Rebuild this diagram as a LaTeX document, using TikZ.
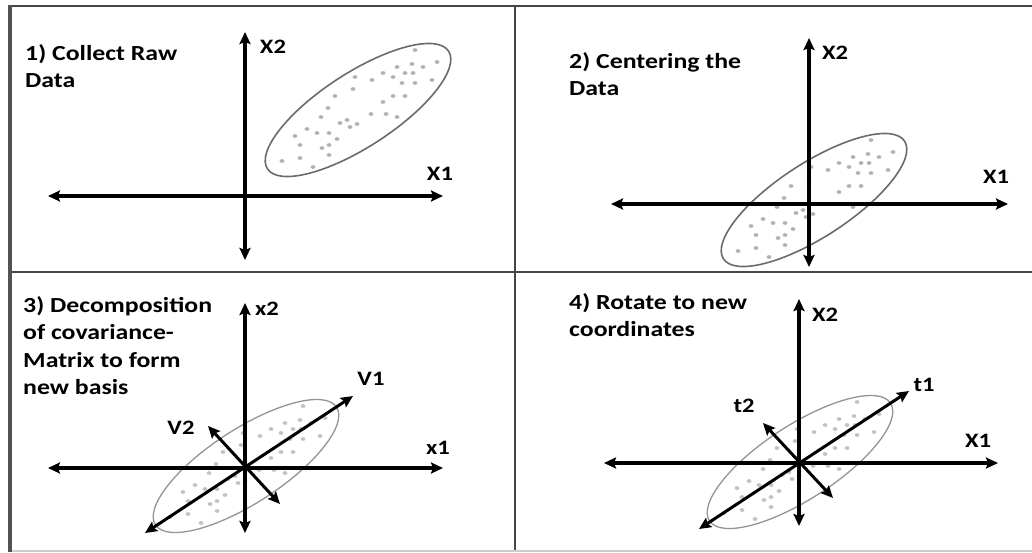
\documentclass[tikz,border=0pt]{standalone}
\usepackage{fontspec}
\setmainfont{Carlito}[FakeStretch=1.2]
\usetikzlibrary{arrows.meta}
\tikzset{
  frameline/.style={line width=2pt, draw=black!72},
  axisline/.style={line width=3.2pt, black, {Stealth[length=12pt,width=11pt,inset=2pt]}-{Stealth[length=12pt,width=11pt,inset=2pt]}},
  vecline/.style={line width=3pt, black, {Stealth[length=12pt,width=11pt,inset=2pt]}-{Stealth[length=12pt,width=11pt,inset=2pt]}},
  titletext/.style={anchor=north west, inner sep=0pt, align=left, font=\fontsize{21.5}{27.5}\selectfont\bfseries},
  axislabel/.style={inner sep=0pt, font=\fontsize{20.5}{24}\selectfont\bfseries},
  cloudline/.style={line width=1.6pt},
}
\newcommand\mydots[1]{%
  \foreach \p in {(57,-60),(79,-48),(54,-46),(65,-43),(39,-43),(47,-37),(55,-37),(25,-37),(35,-33),(14,-30),(-3,-33),(44,-27),(57,-27),(74,-30),(-5,-21),(-23,-14),(35,-14),(47,-14),(25,-8),(-30,-2),(13,4),(28,4),(39,7),(-37,7),(-11,10),(-18,13),(-8,17),(-1,14),(-51,19),(-41,23),(-29,23),(-63,26),(-21,29),(-58,35),(-29,35),(-36,38),(-58,48),(-29,45),(-76,51),(-45,57)}
  {\fill[#1] \p ellipse [x radius=2.4pt, y radius=1.9pt];}}
\begin{document}
\begin{tikzpicture}[x=1pt,y=-1pt]
\useasboundingbox (0,0) rectangle (1032,552);
\fill[white] (0,0) rectangle (1032,552);
% frame
\coordinate (tl) at (8,6); \coordinate (tr) at (1032,6);
\coordinate (ml) at (8,272); \coordinate (mr) at (1032,272);
\coordinate (bl) at (8,551); \coordinate (br) at (1032,551);
\coordinate (vt) at (515,6); \coordinate (vb) at (515,552);
\coordinate (lt) at (10,5); \coordinate (lb) at (10,552);
\draw[frameline] (tl) -- (tr);
\draw[frameline] (ml) -- (mr);
\draw[frameline] (vt) -- (vb);
\draw[line width=1.5pt, black!20] (bl) -- (br);
\draw[line width=4pt, black!68] (lt) -- (lb);

% ---------- panel 1
\begin{scope}[shift={(358,110)}]
  \mydots{black!30}
  \draw[cloudline, black!58, rotate=33] (0,0) ellipse [x radius=108pt, y radius=37pt];
\end{scope}
\coordinate (a1t) at (245,32); \coordinate (a1b) at (245,260);
\coordinate (a1l) at (48,196); \coordinate (a1r) at (443,196);
\draw[axisline] (a1b) -- (a1t);
\draw[axisline] (a1l) -- (a1r);
\node[titletext] (t1) at (25,44) {1) Collect Raw\\Data};
\node[axislabel] (l1y) at (273,47) {X2};
\node[axislabel] (l1x) at (440,174) {X1};

% ---------- panel 2
\begin{scope}[shift={(814,200)}]
  \mydots{black!30}
  \draw[cloudline, black!58, rotate=33] (0,0) ellipse [x radius=108pt, y radius=37pt];
\end{scope}
\coordinate (a2t) at (809,38); \coordinate (a2b) at (809,267);
\coordinate (a2l) at (611,204); \coordinate (a2r) at (1008,204);
\draw[axisline] (a2b) -- (a2t);
\draw[axisline] (a2l) -- (a2r);
\node[titletext] (t2) at (569,52) {2) Centering the\\Data};
\node[axislabel] (l2y) at (835,53) {X2};
\node[axislabel] (l2x) at (996,177) {X1};

% ---------- panel 3
\begin{scope}[shift={(246,466)}]
  \mydots{black!24}
  \draw[line width=1.3pt, black!42, rotate=33] (0,0) ellipse [x radius=108pt, y radius=37pt];
\end{scope}
\coordinate (a3t) at (245,303); \coordinate (a3b) at (245,533);
\coordinate (a3l) at (48,468); \coordinate (a3r) at (443,468);
\draw[axisline] (a3b) -- (a3t);
\draw[axisline] (a3l) -- (a3r);
\coordinate (v1a) at (145,533); \coordinate (v1b) at (353,396);
\coordinate (v2a) at (208,426); \coordinate (v2b) at (280,504);
\draw[vecline] (v1a) -- (v1b);
\draw[vecline] (v2a) -- (v2b);
\node[titletext] (t3) at (23,296) {3) Decomposition\\of covariance-\\Matrix to form\\new basis};
\node[axislabel] (l3y) at (267,309) {x2};
\node[axislabel] (l3x) at (438,448) {x1};
\node[axislabel] (l3v1) at (371,379) {V1};
\node[axislabel] (l3v2) at (181,428) {V2};

% ---------- panel 4
\begin{scope}[shift={(800,462)}]
  \mydots{black!24}
  \draw[line width=1.3pt, black!42, rotate=33] (0,0) ellipse [x radius=108pt, y radius=37pt];
\end{scope}
\coordinate (a4t) at (799,299); \coordinate (a4b) at (799,526);
\coordinate (a4l) at (604,463); \coordinate (a4r) at (998,463);
\draw[axisline] (a4b) -- (a4t);
\draw[axisline] (a4l) -- (a4r);
\coordinate (w1a) at (699,529); \coordinate (w1b) at (909,391);
\coordinate (w2a) at (763,423); \coordinate (w2b) at (833,498);
\draw[vecline] (w1a) -- (w1b);
\draw[vecline] (w2a) -- (w2b);
\node[titletext] (t4) at (569,293) {4) Rotate to new\\coordinates};
\node[axislabel] (l4y) at (825,315) {X2};
\node[axislabel] (l4x) at (978,441) {X1};
\node[axislabel] (l4t1) at (924,385) {t1};
\node[axislabel] (l4t2) at (744,406) {t2};
\end{tikzpicture}
\end{document}
